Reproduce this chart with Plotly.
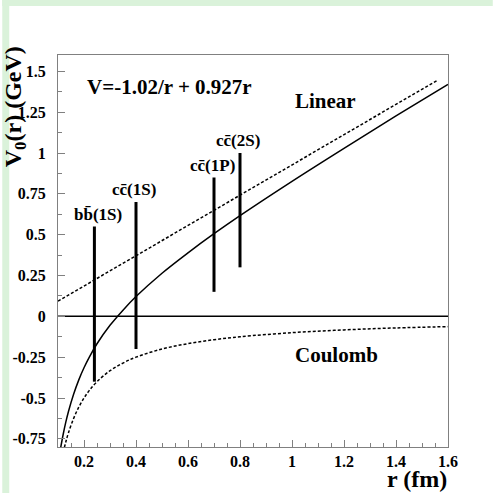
import plotly.graph_objects as go

# ---- data ----
r_curve = [0.11, 0.12, 0.13, 0.14, 0.16, 0.18, 0.20, 0.22, 0.25, 0.30, 0.35,
           0.40, 0.50, 0.60, 0.70, 0.80, 1.00, 1.20, 1.40, 1.60]
v_total = [-0.807, -0.722, -0.648, -0.584, -0.477, -0.389, -0.315, -0.251, -0.168,
           -0.055, 0.038, 0.121, 0.264, 0.389, 0.506, 0.617, 0.827, 1.029, 1.227, 1.420]

r_coul = [0.12, 0.13, 0.14, 0.16, 0.18, 0.20, 0.22, 0.25, 0.30, 0.35,
          0.40, 0.50, 0.60, 0.70, 0.80, 1.00, 1.20, 1.40, 1.60]
v_coul = [-0.833, -0.769, -0.714, -0.625, -0.556, -0.500, -0.455, -0.400, -0.333, -0.286,
          -0.250, -0.200, -0.167, -0.143, -0.125, -0.100, -0.083, -0.071, -0.063]

r_lin = [0.10, 0.40, 0.80, 1.20, 1.56]
v_lin = [0.093, 0.371, 0.742, 1.112, 1.446]

zero_r = [0.10, 1.60]
zero_v = [0.0, 0.0]

state_labels = ["bb\u0304(1S)", "cc\u0304(1S)", "cc\u0304(1P)", "cc\u0304(2S)"]
state_r = [0.24, 0.40, 0.70, 0.80]
state_vmin = [-0.40, -0.20, 0.15, 0.30]
state_vmax = [0.55, 0.70, 0.85, 1.00]
label_shift = [4, -2, -2, -2]

x_tickvals = [0.2, 0.4, 0.6, 0.8, 1.0, 1.2, 1.4, 1.6]
x_ticktext = ["0.2", "0.4", "0.6", "0.8", "1", "1.2", "1.4", "1.6"]
y_tickvals = [-0.75, -0.5, -0.25, 0, 0.25, 0.5, 0.75, 1, 1.25, 1.5]
y_ticktext = ["-0.75", "-0.5", "-0.25", "0", "0.25", "0.5", "0.75", "1", "1.25", "1.5"]

FONT = "Liberation Serif"
GREEN = "#daf2da"
AXC = "#808080"

# ---- figure ----
fig = go.Figure()

fig.add_trace(go.Scatter(x=zero_r, y=zero_v, mode="lines",
                         line=dict(color="black", width=1.5), hoverinfo="skip"))
fig.add_trace(go.Scatter(x=r_lin, y=v_lin, mode="lines",
                         line=dict(color="black", width=1.5, dash="3px,2px")))
fig.add_trace(go.Scatter(x=r_coul, y=v_coul, mode="lines", line_shape="spline",
                         line=dict(color="black", width=1.5, dash="3px,2px")))
fig.add_trace(go.Scatter(x=r_curve, y=v_total, mode="lines", line_shape="spline",
                         line=dict(color="black", width=1.5)))

bx, by = [], []
for r, lo, hi in zip(state_r, state_vmin, state_vmax):
    bx += [r, r, None]
    by += [lo, hi, None]
fig.add_trace(go.Scatter(x=bx, y=by, mode="lines",
                         line=dict(color="black", width=3)))

annotations = []
for lab, r, hi, sh in zip(state_labels, state_r, state_vmax, label_shift):
    annotations.append(dict(x=r, y=hi, xref="x", yref="y", text=lab, showarrow=False,
                            xanchor="center", yanchor="bottom", yshift=1, xshift=sh,
                            font=dict(family=FONT, size=17, color="black", weight="bold")))

W = H = 493
ml, mr, mt, mb = 56, 45, 55, 46
pw, ph = W - ml - mr, H - mt - mb


def px(x):
    return (x - ml) / pw


def py(y):
    return (H - mb - y) / ph


annotations += [
    dict(x=px(83), y=py(87), xref="paper", yref="paper", text="V=-1.02/r + 0.927r",
         showarrow=False, xanchor="left", yanchor="middle",
         font=dict(family=FONT, size=21, color="black", weight="bold")),
    dict(x=px(292), y=py(101), xref="paper", yref="paper", text="Linear",
         showarrow=False, xanchor="left", yanchor="middle",
         font=dict(family=FONT, size=21, color="black", weight="bold")),
    dict(x=px(292), y=py(355), xref="paper", yref="paper", text="Coulomb",
         showarrow=False, xanchor="left", yanchor="middle",
         font=dict(family=FONT, size=21, color="black", weight="bold")),
    dict(x=px(449), y=py(479), xref="paper", yref="paper", text="r (fm)",
         showarrow=False, xanchor="right", yanchor="middle",
         font=dict(family=FONT, size=24, color="black", weight="bold")),
    dict(x=px(13), y=py(107), xref="paper", yref="paper", text="V<sub>0</sub>(r) (GeV)",
         showarrow=False, xanchor="center", yanchor="middle", textangle=-90,
         font=dict(family=FONT, size=24, color="black", weight="bold")),
]

shapes = [
    dict(type="rect", xref="paper", yref="paper", layer="below",
         x0=px(0), x1=px(7), y0=py(W), y1=py(0), fillcolor=GREEN, line_width=0),
    dict(type="rect", xref="paper", yref="paper", layer="below",
         x0=px(0), x1=px(W), y0=py(6), y1=py(0), fillcolor=GREEN, line_width=0),
]

fig.update_layout(
    width=W, height=H,
    margin=dict(l=ml, r=mr, t=mt, b=mb, pad=0),
    paper_bgcolor="white", plot_bgcolor="white",
    showlegend=False,
    annotations=annotations, shapes=shapes,
    font=dict(family=FONT, color="black"),
)

fig.update_xaxes(
    range=[0.1, 1.6], tickmode="array", tickvals=x_tickvals, ticktext=x_ticktext,
    ticks="inside", ticklen=7, tickcolor=AXC, tickwidth=1,
    minor=dict(dtick=0.05, tick0=0, ticks="inside", ticklen=4, tickcolor=AXC, tickwidth=1),
    showline=True, linecolor=AXC, linewidth=1, mirror=True,
    showgrid=False, zeroline=False,
    tickfont=dict(family=FONT, size=16, color="black", weight="bold"),
)
fig.update_yaxes(
    range=[-0.8, 1.6], tickmode="array", tickvals=y_tickvals, ticktext=y_ticktext,
    ticks="inside", ticklen=7, tickcolor=AXC, tickwidth=1,
    minor=dict(dtick=0.125, tick0=0, ticks="inside", ticklen=4, tickcolor=AXC, tickwidth=1),
    showline=True, linecolor=AXC, linewidth=1, mirror=True,
    showgrid=False, zeroline=False, ticklabelstandoff=8,
    tickfont=dict(family=FONT, size=16, color="black", weight="bold"),
)

fig.write_html("out.html")
